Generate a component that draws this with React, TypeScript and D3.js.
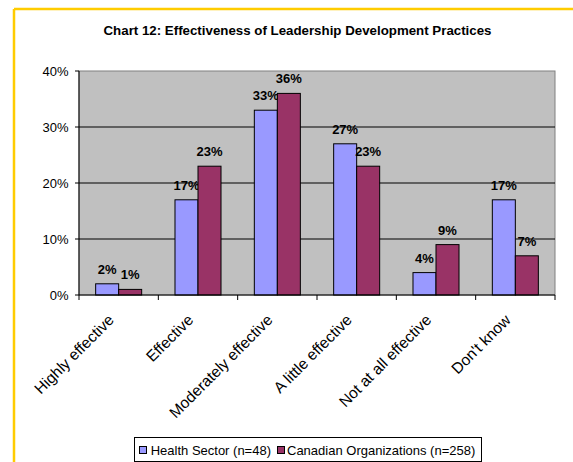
import React from "react";
import * as d3 from "d3";

const categories = ["Highly effective", "Effective", "Moderately effective", "A little effective", "Not at all effective", "Don't know"];
const healthSector = [2, 17, 33, 27, 4, 17];
const canadianOrgs = [1, 23, 36, 23, 9, 7];
const seriesNames = ["Health Sector (n=48)", "Canadian Organizations (n=258)"];
const yTicks = [0, 10, 20, 30, 40];
const title = "Chart 12: Effectiveness of Leadership Development Practices";

const W = 573, H = 462;
const plot = { left: 79, right: 555, top: 71, bottom: 295 };
const colors = ["#9999FF", "#993366"];
const font = "Arial, 'Liberation Sans', sans-serif";

export default function App() {
  const x = d3.scaleBand<string>().domain(categories).range([plot.left, plot.right]).paddingInner(0).paddingOuter(0);
  const y = d3.scaleLinear().domain([0, 40]).range([plot.bottom, plot.top]);
  const bw = x.bandwidth();
  const barW = bw * 0.29;
  const series = [healthSector, canadianOrgs];

  return (
    <svg width={W} height={H} style={{ position: "absolute", left: 0, top: 0, background: "#fff" }} fontFamily={font}>
      <rect x={0} y={0} width={W} height={H} fill="#fff" />
      {/* yellow frame */}
      <line x1={14} y1={9} x2={W} y2={9} stroke="#FFCC00" strokeWidth={2.5} />
      <line x1={14} y1={9} x2={14} y2={H} stroke="#FFCC00" strokeWidth={2.5} />
      <text x={297.5} y={35} textAnchor="middle" fontSize={13.3} fontWeight="bold" fill="#000">{title}</text>
      {/* plot bg */}
      <rect x={plot.left} y={plot.top} width={plot.right - plot.left} height={plot.bottom - plot.top} fill="#C0C0C0" stroke="#808080" strokeWidth={1} />
      {yTicks.map(t => (
        <g key={t}>
          {t > 0 && t < 40 && <line x1={plot.left} x2={plot.right} y1={y(t)} y2={y(t)} stroke="#000" strokeWidth={1} />}
          <line x1={plot.left - 4} x2={plot.left} y1={y(t)} y2={y(t)} stroke="#000" />
          <text x={plot.left - 10.5} y={y(t)} dy="0.36em" textAnchor="end" fontSize={13} fill="#000">{t}%</text>
        </g>
      ))}
      {series.map((vals, si) =>
        vals.map((v, i) => {
          const cx = x(categories[i])! + bw / 2;
          const bx = cx - barW + si * barW;
          return (
            <g key={`${si}-${i}`}>
              <rect x={bx} y={y(v)} width={barW} height={plot.bottom - y(v)} fill={colors[si]} stroke="#000" strokeWidth={1} />
              <text x={bx + barW / 2} y={y(v) - 10} textAnchor="middle" fontSize={13} fontWeight="bold" fill="#000">{v}%</text>
            </g>
          );
        })
      )}
      {/* axes */}
      <line x1={plot.left} x2={plot.left} y1={plot.top} y2={plot.bottom} stroke="#000" />
      <line x1={plot.left} x2={plot.right} y1={plot.bottom} y2={plot.bottom} stroke="#000" />
      {categories.map((c) => (
        <line key={c} x1={x(c)!} x2={x(c)!} y1={plot.bottom} y2={plot.bottom + 5} stroke="#000" />
      ))}
      <line x1={plot.right} x2={plot.right} y1={plot.bottom} y2={plot.bottom + 5} stroke="#000" />
      {categories.map(c => {
        const cx = x(c)! + bw / 2 - 3.7;
        const cy = plot.bottom + 26;
        return (
          <text key={c} transform={`translate(${cx},${cy}) rotate(-45)`} textAnchor="end" fontSize={15.5} fill="#000">{c}</text>
        );
      })}
      {/* legend */}
      <rect x={134.5} y={437.5} width={347} height={24} fill="#fff" stroke="#000" />
      <rect x={139.5} y={446.5} width={7} height={7} fill={colors[0]} stroke="#000" />
      <text x={150.7} y={454.5} fontSize={13} fill="#000">{seriesNames[0]}</text>
      <rect x={277.5} y={446.5} width={7} height={7} fill={colors[1]} stroke="#000" />
      <text x={287} y={454.5} fontSize={13} fill="#000">{seriesNames[1]}</text>
    </svg>
  );
}
